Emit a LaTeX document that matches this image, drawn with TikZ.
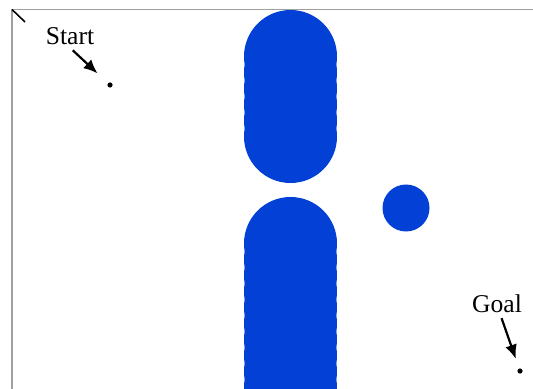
\documentclass[tikz,border=0pt]{standalone}
\usepackage{fontspec}
\setmainfont{Liberation Serif}
\usetikzlibrary{arrows.meta}
\definecolor{obstblue}{RGB}{2,64,214}
\tikzset{
    pointer/.style={-{Latex[length=7pt,width=6pt]}, line width=1.1pt},
    waypoint/.style={shape=circle, fill=black, inner sep=0pt, minimum size=2.6pt},
    obstacle/.style={fill=obstblue},
    bordergray/.style={draw=gray!75, line width=0.75pt}
}

\begin{document}
\begin{tikzpicture}[x=0.5pt, y=-0.5pt, font=\fontsize{12.8}{15}\selectfont]
    \useasboundingbox (0,0) rectangle (533,389);
    \clip (0,0) rectangle (533,389);

    % obstacles
    \foreach \cy in {56.5,72.5,...,136.5}
        \fill[obstacle] (290.5,\cy) circle[radius=46.5];
    \foreach \cy in {243.5,259.5,...,390}
        \fill[obstacle] (290.5,\cy) circle[radius=46.5];
    \fill[obstacle] (406,208) circle[radius=23.5];

    % workspace border
    \coordinate (corner) at (12,9.5);
    \coordinate (topend) at (533,9.5);
    \coordinate (leftend) at (12,389);
    \coordinate (tick) at (25,22);
    \draw[bordergray] (topend) -- (corner) -- (leftend);
    \draw[line width=0.8pt] (corner) -- (tick);

    % start and goal
    \node[waypoint] (startpt) at (110,85) {};
    \node (startlabel) at (70,36) {Start};
    \draw[pointer, shorten <=-1pt, shorten >=7pt] (startlabel.-75) -- (startpt);

    \node[waypoint] (goalpt) at (520,371) {};
    \node (goallabel) at (497,304) {Goal};
    \draw[pointer, shorten <=-1pt, shorten >=5pt] (goallabel.-72) -- (goalpt);
\end{tikzpicture}
\end{document}
